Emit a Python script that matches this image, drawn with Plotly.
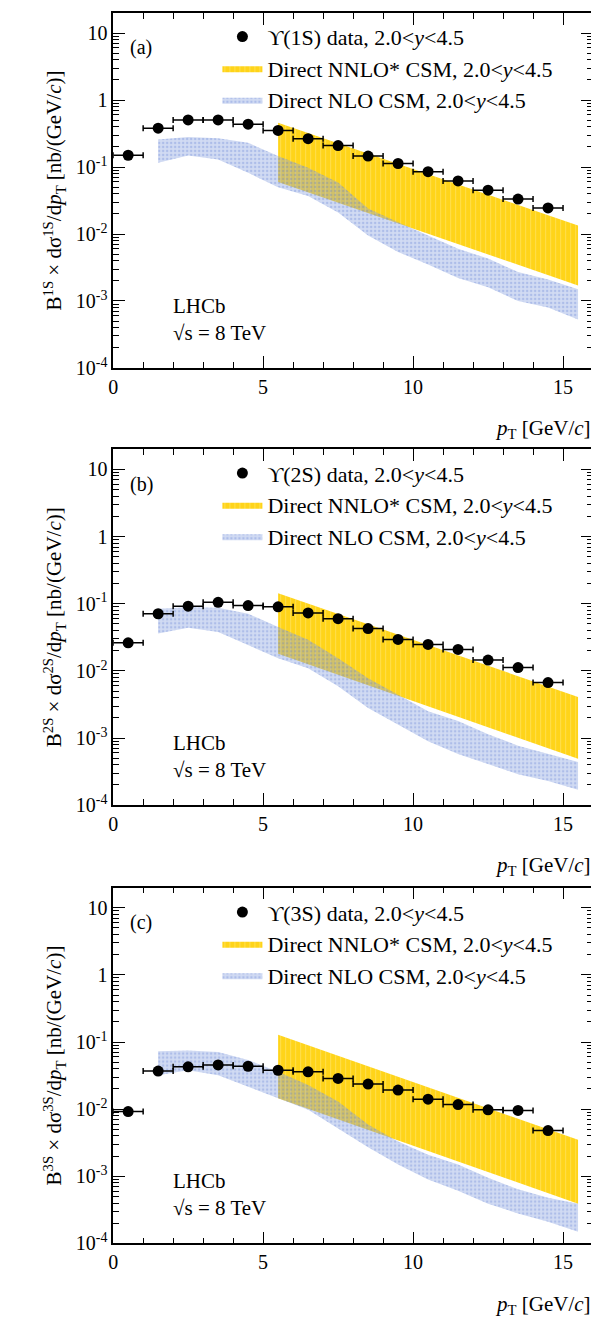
import plotly.graph_objs as go

# bin centres and half widths
pt = [0.5, 1.5, 2.5, 3.5, 4.5, 5.5, 6.5, 7.5, 8.5, 9.5, 10.5, 11.5, 12.5, 13.5, 14.5]
pt_err = [0.5] * 15

# measured cross-sections times branching fraction [nb/(GeV/c)]
data_1s = [0.150, 0.38, 0.506, 0.506, 0.437, 0.352, 0.265, 0.209, 0.146, 0.113, 0.0853, 0.062, 0.0452, 0.0333, 0.0245]
data_2s = [0.0262, 0.071, 0.092, 0.105, 0.094, 0.090, 0.073, 0.060, 0.0427, 0.0294, 0.0248, 0.0209, 0.0145, 0.0112, 0.0067]
data_3s = [0.0092, 0.0369, 0.0427, 0.0457, 0.0436, 0.038, 0.036, 0.0287, 0.0237, 0.0193, 0.0141, 0.0117, 0.0098, 0.0096, 0.0048]

# NNLO* band (edges at 5.5 and 15.5)
nnlo_x = [5.5, 15.5]
nnlo_hi = {"1S": [0.46, 0.0134], "2S": [0.144, 0.0041], "3S": [0.128, 0.0035]}
nnlo_lo = {"1S": [0.06, 0.0017], "2S": [0.018, 0.00049], "3S": [0.0146, 0.00039]}

# NLO band
nlo_x = [1.5, 2.5, 3.5, 4.5, 5.5, 6.5, 7.5, 8.5, 9.5, 10.5, 11.5, 12.5, 13.5, 14.5, 15.5]
nlo_hi = {
    "1S": [0.257, 0.28, 0.27, 0.23, 0.146, 0.098, 0.059, 0.024, 0.015, 0.0095, 0.006, 0.0043, 0.0027, 0.0021, 0.0015],
    "2S": [0.084, 0.089, 0.087, 0.071, 0.045, 0.029, 0.0154, 0.0078, 0.0044, 0.0025, 0.0018, 0.00114, 0.00077, 0.00058, 0.00044],
    "3S": [0.073, 0.075, 0.071, 0.054, 0.036, 0.023, 0.013, 0.0059, 0.0033, 0.0021, 0.0015, 0.00095, 0.00064, 0.00048, 0.00039],
}
nlo_lo = {
    "1S": [0.116, 0.149, 0.13, 0.082, 0.05, 0.037, 0.021, 0.0095, 0.0054, 0.0035, 0.0022, 0.0016, 0.001, 0.0008, 0.00053],
    "2S": [0.036, 0.044, 0.038, 0.024, 0.0154, 0.011, 0.0059, 0.0028, 0.0016, 0.0009, 0.00058, 0.00041, 0.00029, 0.00023, 0.00017],
    "3S": [0.032, 0.038, 0.032, 0.0216, 0.0146, 0.0098, 0.0052, 0.0027, 0.0015, 0.0009, 0.00061, 0.00039, 0.00028, 0.00021, 0.00015],
}

states = ["1S", "2S", "3S"]
datasets = [data_1s, data_2s, data_3s]
letters = ["(a)", "(b)", "(c)"]
ydomains = [[0.7229, 0.9962], [0.3863, 0.6603], [0.0489, 0.3229]]
xdomain = [0.1715, 0.9932]
legend_y = [0.994, 0.658, 0.320]

ytickvals = [1e-4, 1e-3, 1e-2, 1e-1, 1, 10]
yticktext = ["10<sup>-4</sup>", "10<sup>-3</sup>", "10<sup>-2</sup>", "10<sup>-1</sup>", "1", "10"]
yminor = [m * 10 ** e for e in range(-4, 2) for m in range(2, 10)]

FONT = "Liberation Serif"

fig = go.Figure()

for i, (st, dat) in enumerate(zip(states, datasets)):
    n = "" if i == 0 else str(i + 1)
    xa, ya = "x" + n, "y" + n
    leg = "legend" + n

    # NNLO* yellow band
    fig.add_trace(go.Scatter(
        x=nnlo_x + nnlo_x[::-1], y=nnlo_hi[st] + nnlo_lo[st][::-1],
        xaxis=xa, yaxis=ya, mode="lines", line=dict(width=0), fill="toself",
        fillcolor="rgba(255,208,0,0.9)",
        fillpattern=dict(shape="|", fgcolor="rgba(255,240,160,0.8)", bgcolor="rgba(255,208,0,0.9)", size=5, solidity=0.2),
        name="Direct NNLO* CSM, 2.0<<i>y</i><4.5", legend=leg, legendrank=2,
    ))
    # NLO blue band
    fig.add_trace(go.Scatter(
        x=nlo_x + nlo_x[::-1], y=nlo_hi[st] + nlo_lo[st][::-1],
        xaxis=xa, yaxis=ya, mode="lines", line=dict(width=0), fill="toself",
        fillcolor="rgba(120,150,220,0.45)",
        fillpattern=dict(shape=".", fgcolor="rgba(90,120,210,0.6)", bgcolor="rgba(140,165,225,0.4)", size=4, solidity=0.3),
        name="Direct NLO CSM, 2.0<<i>y</i><4.5", legend=leg, legendrank=3,
    ))
    # data
    fig.add_trace(go.Scatter(
        x=pt, y=dat, xaxis=xa, yaxis=ya, mode="markers",
        marker=dict(color="black", size=11),
        error_x=dict(type="data", array=pt_err, color="black", thickness=1.5, width=3),
        name="ϒ(%s) data, 2.0<<i>y</i><4.5" % st, legend=leg, legendrank=1,
    ))

    common = dict(showline=True, linecolor="black", linewidth=1.5, mirror="allticks",
                  ticks="inside", ticklen=12, tickcolor="black", showgrid=False, zeroline=False,
                  tickfont=dict(family=FONT, size=20, color="black"))
    fig.layout["xaxis" + n] = dict(
        domain=xdomain, anchor=ya, range=[0, 16], tickvals=[0, 5, 10, 15],
        minor=dict(ticks="inside", ticklen=6, tickcolor="black", dtick=1, tick0=0),
        **common)
    fig.layout["yaxis" + n] = dict(
        domain=ydomains[i], anchor=xa, type="log", range=[-4, 1.301],
        tickvals=ytickvals, ticktext=yticktext,
        minor=dict(ticks="inside", ticklen=6, tickcolor="black", tickvals=yminor),
        title=dict(text="B<sup>%s</sup> × dσ<sup>%s</sup>/d<i>p</i><sub>T</sub> [nb/(GeV/<i>c</i>)]" % (st, st),
                   font=dict(family=FONT, size=21, color="black"), standoff=8),
        **common)
    fig.layout[leg] = dict(
        x=0.35, y=legend_y[i], xanchor="left", yanchor="top", bgcolor="rgba(0,0,0,0)",
        font=dict(family=FONT, size=22, color="black"), tracegroupgap=0, itemwidth=40,
        traceorder="normal")

    fig.add_annotation(x=0.03, y=0.94, xref=xa + " domain", yref=ya + " domain", text=letters[i],
                       showarrow=False, xanchor="left", yanchor="top",
                       font=dict(family=FONT, size=20, color="black"))
    fig.add_annotation(x=0.12, y=0.06, xref=xa + " domain", yref=ya + " domain",
                       text="LHCb<br>√s = 8 TeV", align="left",
                       showarrow=False, xanchor="left", yanchor="bottom",
                       font=dict(family=FONT, size=21, color="black"))
    fig.add_annotation(x=1.0, y=-0.13, xref=xa + " domain", yref=ya + " domain",
                       text="<i>p</i><sub>T</sub> [GeV/<i>c</i>]",
                       showarrow=False, xanchor="right", yanchor="top",
                       font=dict(family=FONT, size=21, color="black"))

fig.update_layout(
    width=589, height=1310, margin=dict(l=0, r=0, t=0, b=0),
    plot_bgcolor="white", paper_bgcolor="white",
    font=dict(family=FONT, color="black"),
)

fig.write_html("out.html")
